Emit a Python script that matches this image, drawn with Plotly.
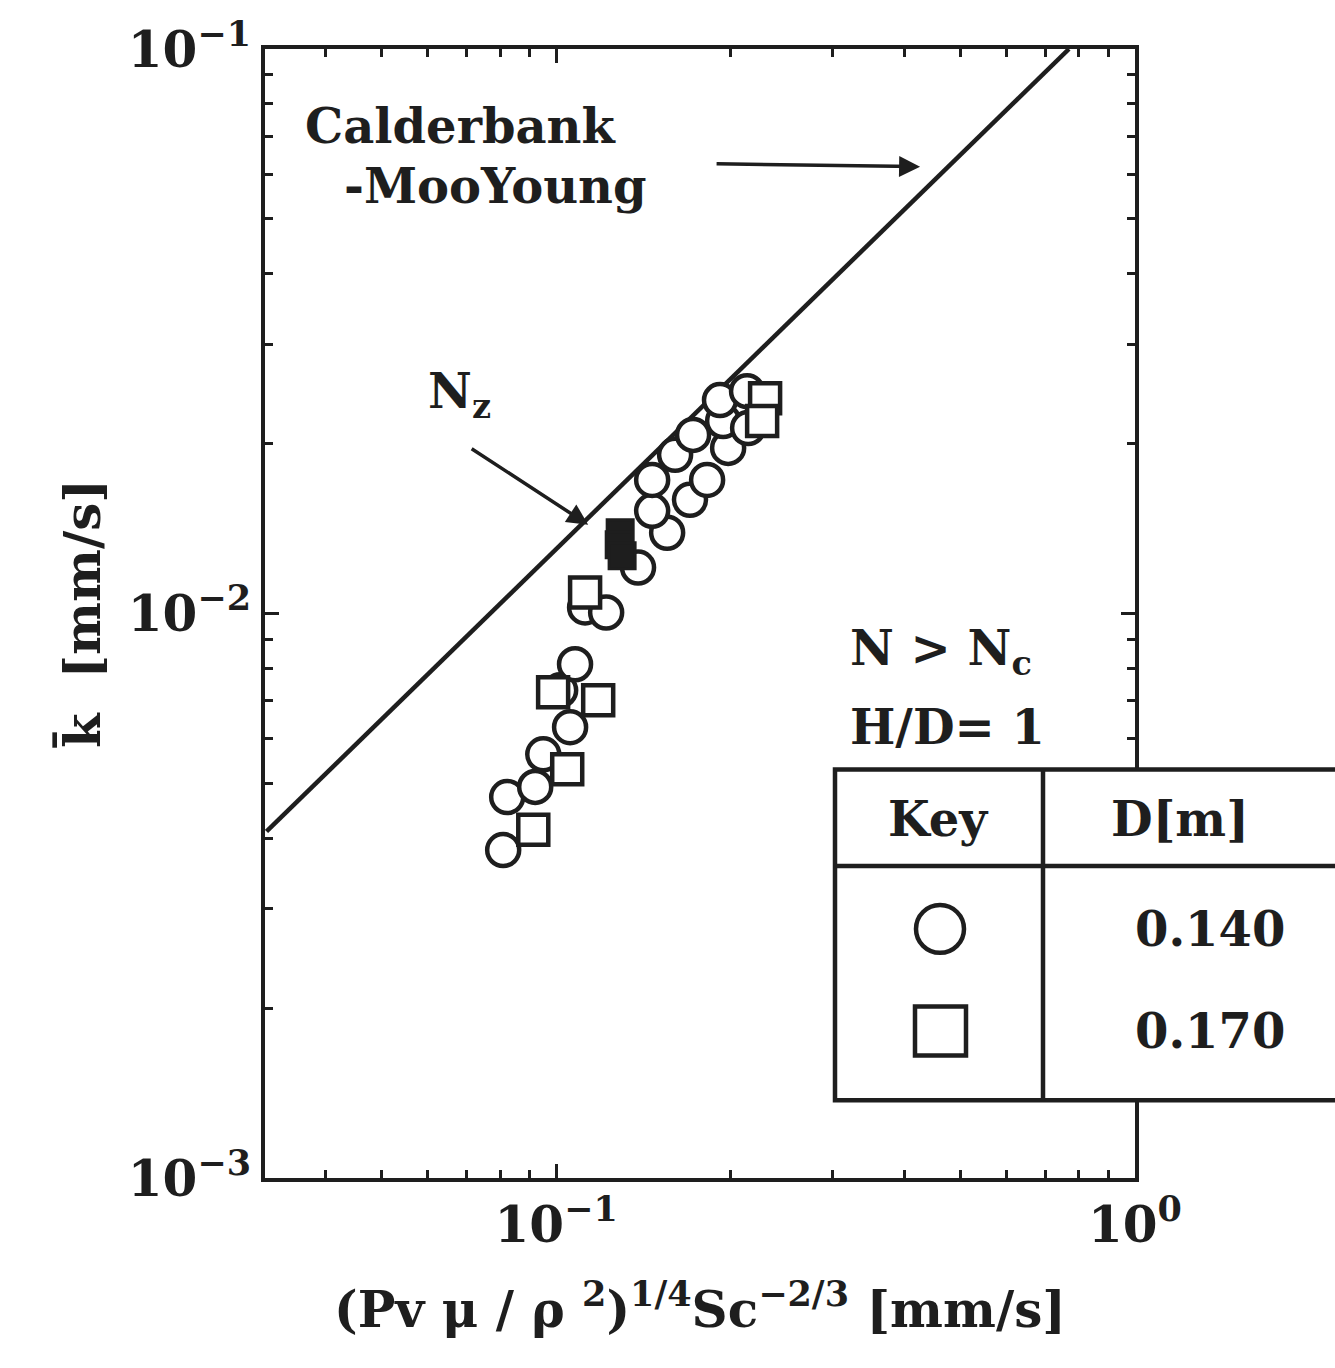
import plotly.graph_objects as go

# Calderbank - Moo-Young correlation line (end points)
line_x = [0.0316, 0.769]
line_k = [0.00411, 0.100]

# D = 0.140 m (open circles)
circ_x = [0.0810, 0.0823, 0.0920, 0.0950, 0.1057, 0.1016, 0.1078, 0.1122, 0.1220,
          0.1385, 0.1555, 0.1465, 0.1703, 0.1465, 0.1823, 0.1605, 0.1724, 0.1982,
          0.1943, 0.1919, 0.2137, 0.2146]
circ_k = [0.00381, 0.00473, 0.00493, 0.00563, 0.00629, 0.00731, 0.00813, 0.01025, 0.01004,
          0.01206, 0.01390, 0.01520, 0.01590, 0.01724, 0.01724, 0.01910, 0.02072, 0.01965,
          0.02193, 0.02388, 0.02477, 0.02131]

# D = 0.170 m (open squares)
sq_x = [0.0913, 0.1045, 0.0988, 0.1182, 0.1122, 0.2296, 0.2269]
sq_k = [0.00414, 0.00530, 0.00725, 0.00702, 0.01089, 0.02407, 0.02193]

# points at N = Nz (filled squares)
nz_x = [0.1290, 0.1285, 0.1300]
nz_k = [0.01390, 0.01324, 0.01266]

FONT = "DejaVu Serif"
INK = "#1e1e1e"

fig = go.Figure()

fig.add_trace(go.Scatter(x=line_x, y=line_k, mode="lines",
                         line=dict(color=INK, width=4.5), showlegend=False))
fig.add_trace(go.Scatter(x=circ_x, y=circ_k, mode="markers", showlegend=False,
                         marker=dict(symbol="circle", size=32, color="white",
                                     line=dict(color=INK, width=4.5))))
fig.add_trace(go.Scatter(x=sq_x, y=sq_k, mode="markers", showlegend=False,
                         marker=dict(symbol="square", size=30, color="white",
                                     line=dict(color=INK, width=4.5))))
fig.add_trace(go.Scatter(x=nz_x, y=nz_k, mode="markers", showlegend=False,
                         marker=dict(symbol="square", size=26, color=INK,
                                     line=dict(color=INK, width=3))))

minor_x = [m * d for d in (0.01, 0.1) for m in range(2, 10)]
minor_y = [m * d for d in (0.001, 0.01) for m in range(2, 10)]

tick_font = dict(family=FONT, size=50, color=INK, weight="bold")
title_font = dict(family=FONT, size=50, color=INK, weight="bold")

fig.update_xaxes(type="log", range=[-1.503, 0],
                 tickvals=[0.1, 1], ticktext=["10<sup>−1</sup>", "10<sup>0</sup>"],
                 ticks="inside", ticklen=14, tickwidth=3, tickcolor=INK,
                 minor=dict(ticks="inside", ticklen=8, tickwidth=3, tickcolor=INK,
                            tickvals=minor_x),
                 showline=True, linewidth=4, linecolor=INK, mirror="ticks",
                 showgrid=False, zeroline=False,
                 tickfont=tick_font,
                 title=dict(text="(Pv μ / ρ <sup>2</sup>)<sup>1/4</sup>Sc<sup>−2/3</sup> [mm/s]",
                            font=title_font, standoff=40))
fig.update_yaxes(type="log", range=[-3, -1],
                 tickvals=[0.001, 0.01, 0.1],
                 ticktext=["10<sup>−3</sup>", "10<sup>−2</sup>", "10<sup>−1</sup>"],
                 ticks="inside", ticklen=14, tickwidth=3, tickcolor=INK,
                 minor=dict(ticks="inside", ticklen=8, tickwidth=3, tickcolor=INK,
                            tickvals=minor_y),
                 showline=True, linewidth=4, linecolor=INK, mirror="ticks",
                 showgrid=False, zeroline=False,
                 tickfont=tick_font,
                 title=dict(text="k\u0304  [mm/s]", font=title_font, standoff=12))

# plot-area geometry in pixels, used to place the key table
L, R, T, B = 265, 1135, 45, 1178
W, H = R - L, B - T


def px(x):
    return (x - L) / W


def py(y):
    return (B - y) / H


shapes = [
    # key table
    dict(type="rect", xref="paper", yref="paper", x0=px(835), x1=px(1345), y0=py(1100), y1=py(768),
         fillcolor="white", line=dict(color=INK, width=4.5), layer="above"),
    dict(type="line", xref="paper", yref="paper", x0=px(835), x1=px(1345), y0=py(865), y1=py(865),
         line=dict(color=INK, width=4.5), layer="above"),
    dict(type="line", xref="paper", yref="paper", x0=px(1043), x1=px(1043), y0=py(1100), y1=py(768),
         line=dict(color=INK, width=4.5), layer="above"),
    dict(type="circle", xref="paper", yref="paper", x0=px(916), x1=px(964), y0=py(952), y1=py(904),
         fillcolor="white", line=dict(color=INK, width=4.5), layer="above"),
    dict(type="rect", xref="paper", yref="paper", x0=px(915), x1=px(966), y0=py(1055), y1=py(1006),
         fillcolor="white", line=dict(color=INK, width=4.5), layer="above"),
]

txt = dict(family=FONT, size=48, color=INK, weight="bold")
annotations = [
    dict(xref="paper", yref="paper", x=px(303), y=py(122), text="Calderbank", showarrow=False,
         xanchor="left", yanchor="middle", font=txt),
    dict(xref="paper", yref="paper", x=px(342), y=py(182), text="-MooYoung", showarrow=False,
         xanchor="left", yanchor="middle", font=txt),
    dict(x=-0.3713, y=-1.2085, xref="x", yref="y", text="", showarrow=True,
         ax=-205, ay=-3, arrowhead=2, arrowsize=1.2, arrowwidth=3.5, arrowcolor=INK),
    dict(xref="paper", yref="paper", x=px(426), y=py(392), text="N<sub>z</sub>", showarrow=False,
         xanchor="left", yanchor="middle", font=txt),
    dict(x=-0.9447, y=-1.8428, xref="x", yref="y", text="", showarrow=True,
         ax=-118, ay=-77, arrowhead=2, arrowsize=1.2, arrowwidth=3.5, arrowcolor=INK),
    dict(xref="paper", yref="paper", x=px(848), y=py(650), text="N > N<sub>c</sub>", showarrow=False,
         xanchor="left", yanchor="middle", font=txt),
    dict(xref="paper", yref="paper", x=px(848), y=py(725), text="H/D= 1", showarrow=False,
         xanchor="left", yanchor="middle", font=txt),
    dict(xref="paper", yref="paper", x=px(938), y=py(818), text="Key", showarrow=False,
         xanchor="center", yanchor="middle", font=txt),
    dict(xref="paper", yref="paper", x=px(1180), y=py(818), text="D[m]", showarrow=False,
         xanchor="center", yanchor="middle", font=txt),
    dict(xref="paper", yref="paper", x=px(1210), y=py(928), text="0.140", showarrow=False,
         xanchor="center", yanchor="middle", font=txt),
    dict(xref="paper", yref="paper", x=px(1210), y=py(1030), text="0.170", showarrow=False,
         xanchor="center", yanchor="middle", font=txt),
]

fig.update_layout(
    width=1335, height=1368,
    margin=dict(l=L, r=1335 - R, t=T, b=1368 - B),
    paper_bgcolor="white", plot_bgcolor="white",
    shapes=shapes, annotations=annotations,
    showlegend=False,
)

fig.write_html("out.html")
